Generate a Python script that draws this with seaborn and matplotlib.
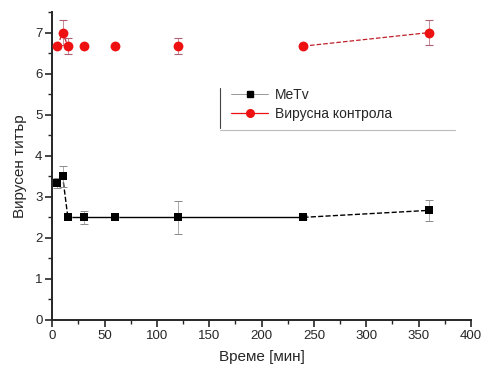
import matplotlib
matplotlib.use("Agg")
import matplotlib.pyplot as plt
import seaborn as sns
import pandas as pd
import numpy as np
from matplotlib.ticker import MultipleLocator
from matplotlib.lines import Line2D

sns.set_style("ticks")
plt.rcParams['font.family'] = ['Liberation Sans', 'DejaVu Sans']

time_min = [5, 10, 15, 30, 60, 120, 240, 360]
metv = [3.33, 3.5, 2.5, 2.5, 2.5, 2.5, 2.5, 2.67]
metv_err = [0.12, 0.25, 0.0, 0.15, 0.0, 0.4, 0.05, 0.25]
control = [6.67, 7.0, 6.67, 6.67, 6.67, 6.67, 6.67, 7.0]
control_err = [0.0, 0.3, 0.2, 0.0, 0.0, 0.2, 0.05, 0.3]

metv_label = "MeTv"
control_label = "Вирусна контрола"
x_label = "Време [мин]"
y_label = "Вирусен титър"

# line segments (start index, end index exclusive, style)
metv_segments = [(0, 3, "--"), (2, 7, "-"), (6, 8, "--")]
control_segments = [(0, 3, "--"), (6, 8, "--")]

df = pd.DataFrame({"t": time_min, "metv": metv, "metv_err": metv_err,
                   "control": control, "control_err": control_err})

fig = plt.figure(figsize=(4.83, 3.71), dpi=100)
ax = fig.add_axes([0.108, 0.1375, 0.867, 0.83])

red = "#ee1111"

for s, e, ls in metv_segments:
    sns.lineplot(data=df.iloc[s:e], x="t", y="metv", ax=ax, color="black",
                 linestyle=ls, linewidth=1.0, estimator=None, sort=False)
for s, e, ls in control_segments:
    sns.lineplot(data=df.iloc[s:e], x="t", y="control", ax=ax, color="#c0202a",
                 linestyle=ls, linewidth=0.9, estimator=None, sort=False)

ax.errorbar(df["t"], df["metv"], yerr=df["metv_err"], fmt="none",
            ecolor="#8a8a8a", elinewidth=0.5, capsize=3, capthick=0.7, zorder=2)
ax.errorbar(df["t"], df["control"], yerr=df["control_err"], fmt="none",
            ecolor="#b06070", elinewidth=0.5, capsize=3, capthick=0.8, zorder=2)

sns.scatterplot(data=df, x="t", y="metv", ax=ax, marker="s", color="black",
                s=38, edgecolor="black", linewidth=0, zorder=4)
sns.scatterplot(data=df, x="t", y="control", ax=ax, marker="o", color=red,
                s=50, edgecolor=red, linewidth=0, zorder=4)

ax.set_xlim(0, 400)
ax.set_ylim(0, 7.5)
ax.xaxis.set_major_locator(MultipleLocator(50))
ax.xaxis.set_minor_locator(MultipleLocator(25))
ax.yaxis.set_major_locator(MultipleLocator(1))
ax.yaxis.set_minor_locator(MultipleLocator(0.5))
ax.tick_params(which="major", length=5, width=1.2, direction="out", labelsize=9.5, pad=2)
ax.tick_params(which="minor", length=3, width=1.0, direction="out")
for sp in ["left", "bottom"]:
    ax.spines[sp].set_linewidth(1.4)
sns.despine(ax=ax)
ax.set_xlabel(x_label, fontsize=11, labelpad=6)
ax.set_ylabel(y_label, fontsize=11, labelpad=6)

handles = [
    Line2D([0], [0], color="#999999", linewidth=0.7, marker="s", markersize=5,
           markerfacecolor="black", markeredgecolor="black"),
    Line2D([0], [0], color=red, linewidth=0.9, marker="o", markersize=5.5,
           markerfacecolor=red, markeredgecolor=red),
]
ax.legend(handles, [metv_label, control_label], loc="upper left",
          bbox_to_anchor=(0.405, 0.785), frameon=False, fontsize=10,
          handlelength=2.6, handletextpad=0.5, labelspacing=0.35,
          borderpad=0.2)
ax.plot([0.401, 0.401], [0.623, 0.755], transform=ax.transAxes, color="#444444",
        linewidth=0.8, clip_on=False)
ax.plot([0.401, 0.962], [0.617, 0.617], transform=ax.transAxes, color="#bbbbbb",
        linewidth=0.8, clip_on=False)

fig.savefig("out.png", dpi=100)
